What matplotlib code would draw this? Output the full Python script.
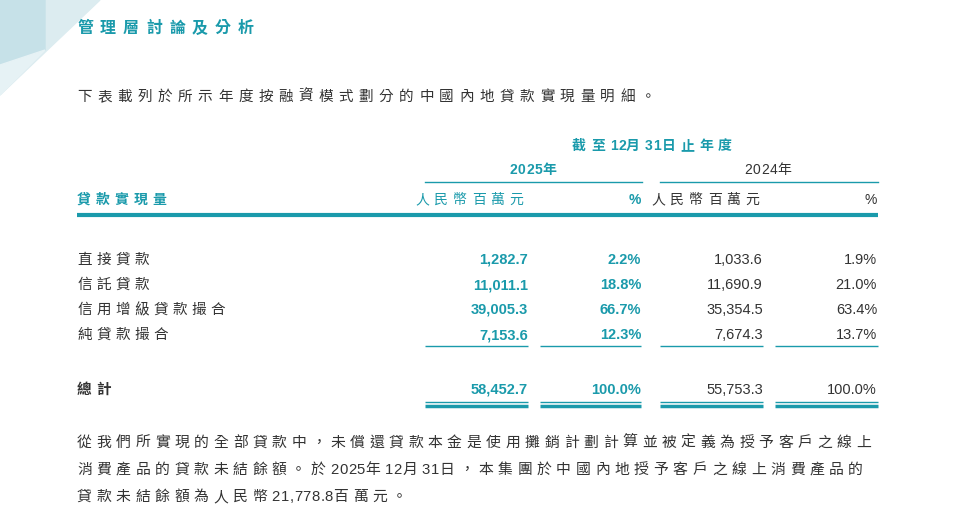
"""
貸款實現量明細表
"""

import matplotlib
matplotlib.use('Agg')
import matplotlib.pyplot as plt
from matplotlib.patches import Polygon

plt.rcParams['font.family'] = ['Liberation Sans', 'Noto Sans CJK TC']

TEAL = '#1a9aab'
DARK = '#333333'

categories = ['直接貸款', '信託貸款', '信用增級貸款撮合', '純貸款撮合']
amount_2025 = ['1,282.7', '11,011.1', '39,005.3', '7,153.6']
pct_2025 = ['2.2%', '18.8%', '66.7%', '12.3%']
amount_2024 = ['1,033.6', '11,690.9', '35,354.5', '7,674.3']
pct_2024 = ['1.9%', '21.0%', '63.4%', '13.7%']
total = ['58,452.7', '100.0%', '55,753.3', '100.0%']

paragraph = [
    '從我們所實現的全部貸款中，未償還貸款本金是使用攤銷計劃計算並被定義為授予客戶之線上',
    '消費產品的貸款未結餘額。於2025年12月31日，本集團於中國內地授予客戶之線上消費產品的',
    '貸款未結餘額為人民幣21,778.8百萬元。',
]


def spaced(ax, x, y, s, track, ha='left', **kw):
    """逐字繪製文字，中文字之間加字距"""
    r = ax.figure.canvas.get_renderer()
    items = []
    cx = x
    for ch in s:
        t = ax.text(cx, y, ch, va='center', **kw)
        w = t.get_window_extent(r).width
        gap = track if ord(ch) > 0x2E80 else 0.5
        items.append(t)
        cx += w + gap
    width = cx - x - gap
    if ha == 'center':
        for t in items:
            px, py = t.get_position()
            t.set_position((px - width / 2, py))


def draw_table():
    fig = plt.figure(figsize=(9.55, 5.16), dpi=100)
    ax = fig.add_axes([0, 0, 1, 1])
    ax.set_xlim(0, 955)
    ax.set_ylim(516, 0)
    ax.axis('off')

    # 左上角裝飾
    ax.add_patch(Polygon([(0, 0), (100, 0), (0, 95)], color='#dcecf0', zorder=0))
    ax.add_patch(Polygon([(0, 0), (45, 0), (45, 50), (0, 65)], color='#c6e1e8', zorder=0))
    ax.add_patch(Polygon([(0, 65), (45, 50), (0, 95)], color='#e6f2f5', zorder=0))

    spaced(ax, 77, 28, '管理層討論及分析', 7, color=TEAL, fontsize=11.5, fontweight='bold')
    spaced(ax, 77, 97, '下表載列於所示年度按融資模式劃分的中國內地貸款實現量明細。', 5.5, color=DARK, fontsize=10.5)

    spaced(ax, 652, 146, '截至12月31日止年度', 5, ha='center', color=TEAL, fontsize=10, fontweight='bold')
    spaced(ax, 533, 170, '2025年', 3, ha='center', color=TEAL, fontsize=10, fontweight='bold')
    spaced(ax, 768, 170, '2024年', 3, ha='center', color=DARK, fontsize=10)
    ax.plot([425, 642], [182, 182], color=TEAL, lw=1)
    ax.plot([660, 878], [182, 182], color=TEAL, lw=1)

    spaced(ax, 77, 200, '貸款實現量', 5, color=TEAL, fontsize=10, fontweight='bold')
    spaced(ax, 415, 200, '人民幣百萬元', 5, color=TEAL, fontsize=10)
    ax.text(641, 200, '%', color=TEAL, fontsize=10, fontweight='bold', va='center', ha='right')
    spaced(ax, 651, 200, '人民幣百萬元', 5, color=DARK, fontsize=10)
    ax.text(877, 200, '%', color=DARK, fontsize=10, va='center', ha='right')
    ax.plot([77, 878], [215, 215], color=TEAL, lw=3, solid_capstyle='butt')

    cols = [528, 641, 763, 877]
    for i, name in enumerate(categories):
        y = 260 + 25 * i
        spaced(ax, 77, y, name, 4.5, color=DARK, fontsize=10.5)
        ax.text(cols[0], y, amount_2025[i], color=TEAL, fontsize=10.5, fontweight='bold', va='center', ha='right')
        ax.text(cols[1], y, pct_2025[i], color=TEAL, fontsize=10.5, fontweight='bold', va='center', ha='right')
        ax.text(cols[2], y, amount_2024[i], color=DARK, fontsize=10.5, va='center', ha='right')
        ax.text(cols[3], y, pct_2024[i], color=DARK, fontsize=10.5, va='center', ha='right')

    segs = [(425, 528), (540, 641), (660, 763), (775, 878)]
    for a, b in segs:
        ax.plot([a, b], [346, 346], color=TEAL, lw=1, solid_capstyle='butt')

    spaced(ax, 77, 390, '總計', 5, color=DARK, fontsize=10.5, fontweight='bold')
    for j, v in enumerate(total):
        bold = j < 2
        ax.text(cols[j], 390, v, color=TEAL if bold else DARK, fontsize=10.5,
                fontweight='bold' if bold else 'normal', va='center', ha='right')
    for a, b in segs:
        ax.plot([a, b], [402, 402], color=TEAL, lw=1, solid_capstyle='butt')
        ax.plot([a, b], [406, 406], color=TEAL, lw=2.5, solid_capstyle='butt')

    for k, line in enumerate(paragraph):
        spaced(ax, 77, 443 + 27 * k, line, 4.6, color=DARK, fontsize=10.7)

    fig.savefig('out.png', dpi=100, facecolor='white')


if __name__ == '__main__':
    draw_table()
